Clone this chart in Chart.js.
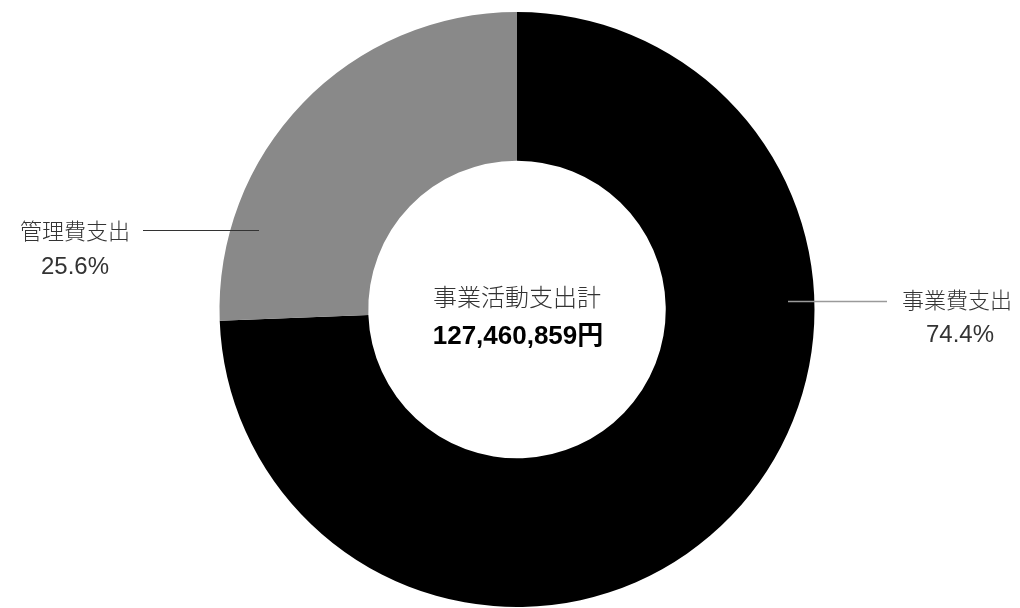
<!DOCTYPE html>
<html lang="ja">
<head>
<meta charset="utf-8">
<title>事業活動支出</title>
<script src="https://cdn.jsdelivr.net/npm/chart.js@4.4.1/dist/chart.umd.min.js"></script>
<style>
  html, body { margin: 0; padding: 0; background: #fff; }
  #wrap { width: 1020px; height: 608px; position: relative; }
</style>
</head>
<body>
<div id="wrap"><canvas id="expenseChart"></canvas></div>
<script>
// 支出の内訳
var categories = ['事業費支出', '管理費支出'];
var shares = [74.4, 25.6];
var shareLabels = ['74.4%', '25.6%'];
var totalTitle = '事業活動支出計';
var totalAmount = '127,460,859円';

var FONT = '"Liberation Sans", "Noto Sans CJK JP", sans-serif';
var FONT_JP = '"Noto Sans CJK JP", "Noto Sans", sans-serif';

// 中央のテキストと引き出し線付きラベル
var labelPlugin = {
    id: 'calloutLabels',
    afterDatasetsDraw: function(chart) {
        var ctx = chart.ctx;
        var arc = chart.getDatasetMeta(0).data[0];
        var cx = arc.x, cy = arc.y;

        ctx.save();
        ctx.textAlign = 'center';
        ctx.textBaseline = 'middle';

        ctx.fillStyle = '#333';
        ctx.font = '300 24px ' + FONT_JP;
        ctx.fillText(totalTitle, cx, cy - 13);
        ctx.fillStyle = '#000';
        ctx.font = 'bold 26px ' + FONT;
        ctx.fillText(totalAmount, cx + 1, cy + 27);

        // 右: 事業費支出
        ctx.strokeStyle = '#9a9a9a';
        ctx.lineWidth = 1.5;
        ctx.beginPath();
        ctx.moveTo(cx + 271, cy - 8);
        ctx.lineTo(cx + 370, cy - 8);
        ctx.stroke();
        ctx.fillStyle = '#333';
        ctx.font = '300 22px ' + FONT_JP;
        ctx.fillText(categories[0], cx + 440, cy - 10);
        ctx.font = '24px ' + FONT;
        ctx.fillText(shareLabels[0], cx + 443, cy + 26);

        // 左: 管理費支出
        ctx.strokeStyle = '#333';
        ctx.lineWidth = 1.2;
        ctx.beginPath();
        ctx.moveTo(cx - 374, cy - 79);
        ctx.lineTo(cx - 258, cy - 79);
        ctx.stroke();
        ctx.font = '300 22px ' + FONT_JP;
        ctx.fillText(categories[1], cx - 442, cy - 79);
        ctx.font = '24px ' + FONT;
        ctx.fillText(shareLabels[1], cx - 442, cy - 42);
        ctx.restore();
    }
};

var chartCtx = document.getElementById('expenseChart').getContext('2d');
var expenseChart = new Chart(chartCtx, {
    type: 'doughnut',
    data: {
        labels: categories,
        datasets: [{
            data: shares,
            backgroundColor: ['#000000', '#898989'],
            borderWidth: 0
        }]
    },
    options: {
        responsive: true,
        maintainAspectRatio: false,
        animation: false,
        cutout: '50%',
        layout: {
            padding: { top: 12, bottom: 1, left: 14, right: 0 }
        },
        plugins: {
            legend: { display: false },
            tooltip: { enabled: false }
        }
    },
    plugins: [labelPlugin]
});
</script>
</body>
</html>
